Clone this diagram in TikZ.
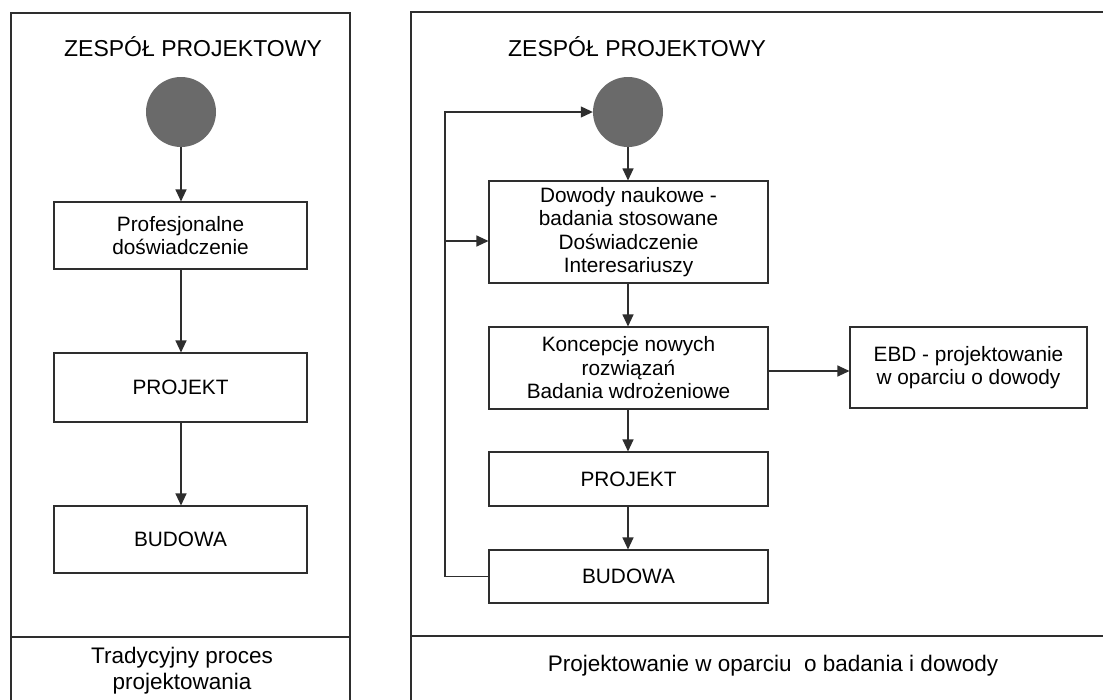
\documentclass[tikz,border=0pt]{standalone}
\usepackage{fontspec}
\setmainfont{Liberation Sans}
\usetikzlibrary{arrows.meta}
\definecolor{linegray}{HTML}{2E2E2E}
\definecolor{dotgray}{HTML}{6A6A6A}
\begin{document}
\begin{tikzpicture}[x=1pt,y=-1pt,
  frame/.style={draw=linegray,line width=1.1pt},
  stepbox/.style={draw=linegray,line width=1.1pt,align=center,inner sep=0pt,
    font=\fontsize{20.8}{23.5}\selectfont},
  actor/.style={circle,fill=dotgray,minimum size=70pt,inner sep=0pt},
  heading/.style={font=\fontsize{23}{26}\selectfont},
  caption/.style={align=center,font=\fontsize{22.5}{26}\selectfont},
  flow/.style={draw=linegray,line width=1.1pt,-{Triangle[length=12pt,width=11pt]}}]
\useasboundingbox (0,0) rectangle (1103,699);
\fill[white] (0,0) rectangle (1103,699);

% panel frames
\draw[frame] (11,705) -- (11,13) -- (350,13) -- (350,705);
\draw[frame] (11,637) -- (350,637);
\draw[frame] (411,705) -- (411,12) -- (1110,12);
\draw[frame] (411,636) -- (1110,636);

% traditional process
\node[heading] (ltitle) at (193,47) {ZESPÓŁ PROJEKTOWY};
\node[actor] (lcirc) at (181,112) {};
\node[stepbox,minimum width=253pt,minimum height=67pt] (lbox1) at (180.5,235.5) {Profesjonalne\\doświadczenie};
\node[stepbox,minimum width=253pt,minimum height=69pt] (lbox2) at (180.5,387.5) {PROJEKT};
\node[stepbox,minimum width=253pt,minimum height=67pt] (lbox3) at (180.5,539.5) {BUDOWA};
\node[caption] (lcap) at (182,671) {Tradycyjny proces\\projektowania};

\draw[flow] (lcirc.south) -- (lcirc.south |- lbox1.north);
\draw[flow] (lbox1.south -| lcirc) -- (lbox2.north -| lcirc);
\draw[flow] (lbox2.south -| lcirc) -- (lbox3.north -| lcirc);

% evidence-based process
\node[heading] (rtitle) at (637,47) {ZESPÓŁ PROJEKTOWY};
\node[actor] (rcirc) at (628,112) {};
\node[stepbox,minimum width=279pt,minimum height=102pt] (rbox1) at (628.5,232) {Dowody naukowe -\\badania stosowane\\Doświadczenie\\Interesariuszy};
\node[stepbox,minimum width=279pt,minimum height=82pt] (rbox2) at (628.5,368) {Koncepcje nowych\\rozwiązań\\Badania wdrożeniowe};
\node[stepbox,minimum width=279pt,minimum height=54pt] (rbox3) at (628.5,479) {PROJEKT};
\node[stepbox,minimum width=279pt,minimum height=53pt] (rbox4) at (628.5,576.5) {BUDOWA};
\node[stepbox,minimum width=237pt,minimum height=81pt] (ebd) at (968.5,367.5) {EBD - projektowanie\\w oparciu o dowody};
\node[caption] (rcap) at (773,666) {Projektowanie w oparciu~ o badania i dowody};

\draw[flow] (rcirc.south) -- (rcirc.south |- rbox1.north);
\draw[flow] (rbox1.south -| rcirc) -- (rbox2.north -| rcirc);
\draw[flow] (rbox2.south -| rcirc) -- (rbox3.north -| rcirc);
\draw[flow] (rbox3.south -| rcirc) -- (rbox4.north -| rcirc);
\draw[flow] (rbox2.east |- 0,371) -- (ebd.west |- 0,371);

% feedback loop from construction back to the team
\coordinate (loop) at (445,0);
\coordinate (branch) at (445,241);
\draw[flow] (rbox4.west) -- (rbox4.west -| loop) |- (rcirc.west);
\draw[flow] (branch) -- (branch -| rbox1.west);
\end{tikzpicture}
\end{document}
